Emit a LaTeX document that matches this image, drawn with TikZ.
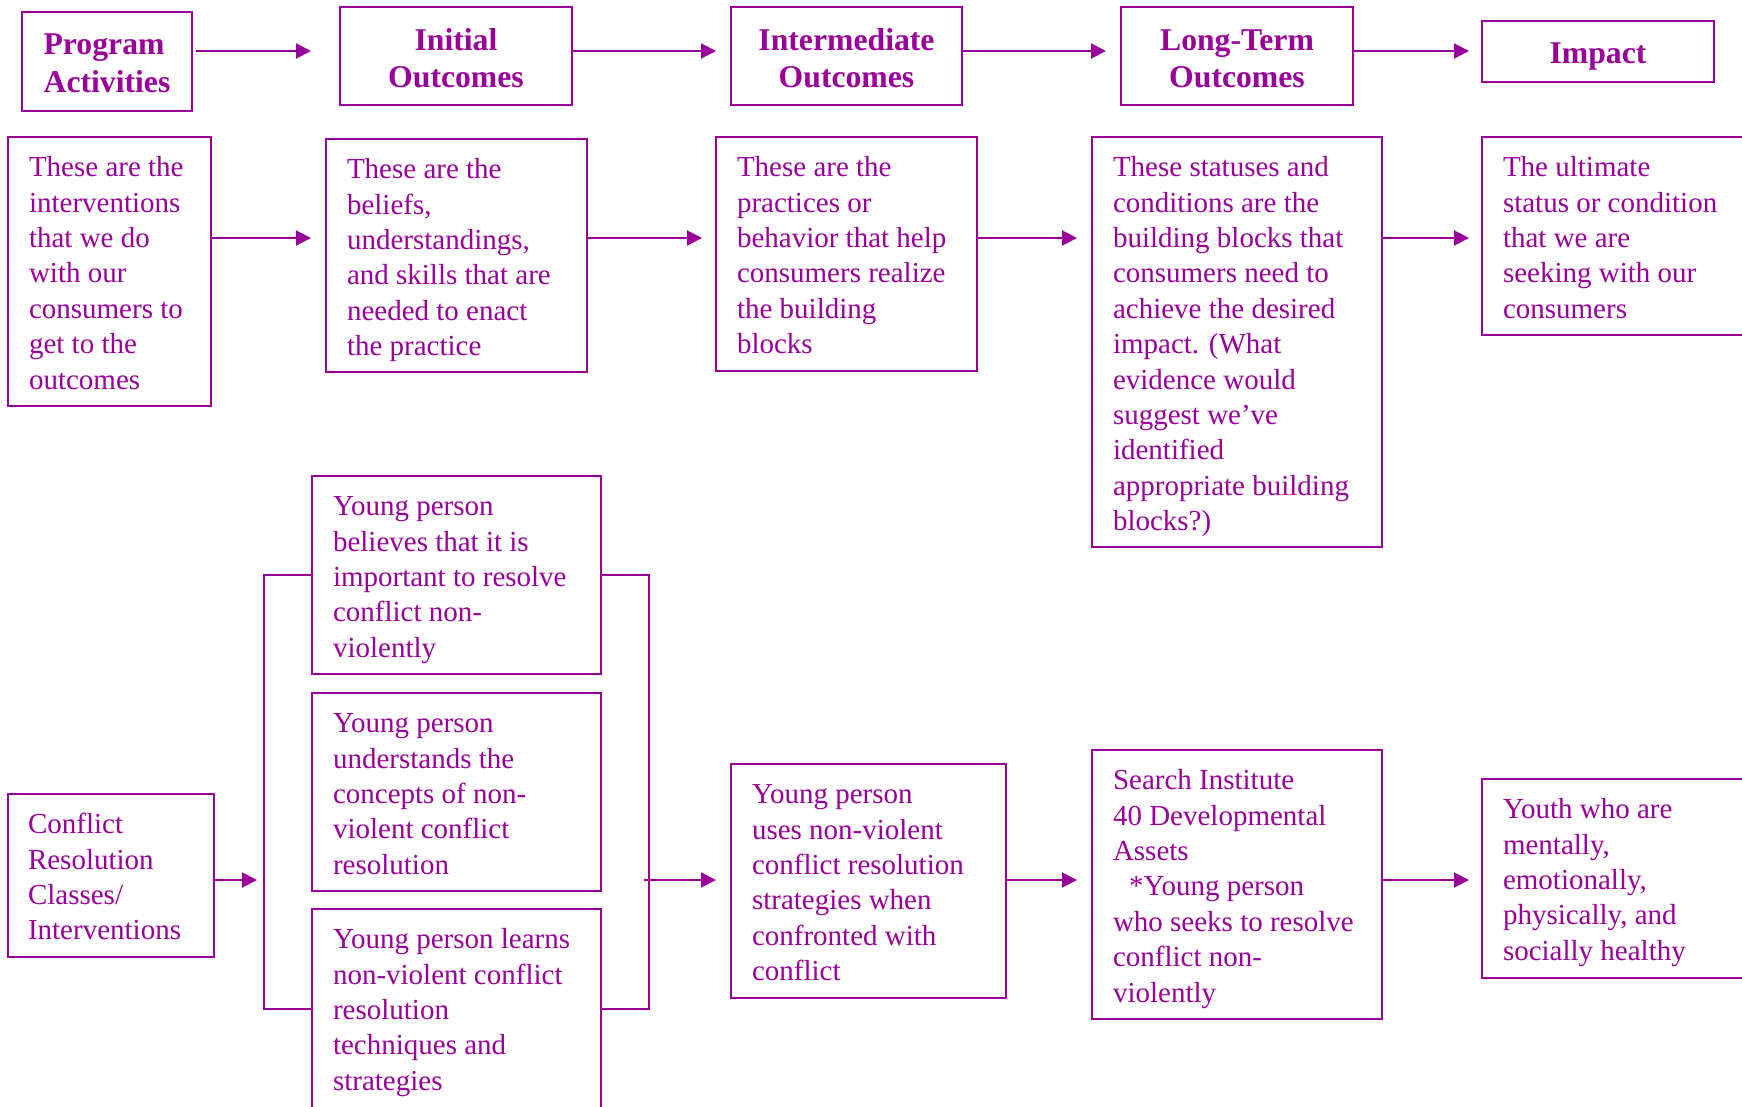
\documentclass[tikz,border=0pt]{standalone}
\usepackage{fontspec}
\setmainfont{Liberation Serif}
\usetikzlibrary{arrows.meta}
\definecolor{pur}{HTML}{990099}
\newcommand{\bodyfont}{\fontsize{29}{35.4}\selectfont}
\newcommand{\headfont}{\bfseries\fontsize{31.7}{37.8}\selectfont}
\begin{document}
\begin{tikzpicture}[x=1pt,y=-1pt,
  box/.style={draw=pur, line width=2pt, inner sep=0pt, outer sep=0pt, anchor=north west},
  txt/.style={text=pur, inner sep=0pt, outer sep=0pt, align=left, font=\bodyfont, anchor=north west},
  hd/.style={text=pur, inner sep=0pt, outer sep=0pt, font=\headfont, anchor=north},
  arr/.style={draw=pur, line width=2pt, -{Triangle[length=15pt,width=15pt]}},
  ln/.style={draw=pur, line width=2pt}]
\useasboundingbox (0,0) rectangle (1742,1106);
\fill[white] (0,0) rectangle (1742,1106);
\clip (0,0) rectangle (1742,1106);

% header boxes
\node[box, minimum width=170pt, minimum height=99pt] (pa) at (22,12) {};
\node[box, minimum width=232pt, minimum height=98pt] (io) at (340,7) {};
\node[box, minimum width=231pt, minimum height=98pt] (imo) at (731,7) {};
\node[box, minimum width=232pt, minimum height=98pt] (lto) at (1121,7) {};
\node[box, minimum width=232pt, minimum height=61pt] (imp) at (1482,21) {};

\node[hd, align=left] (pat) at ([shift={(0,15.8)}]pa.north) {\strut Program\\Activities};
\node[hd, align=center] (iot) at ([shift={(0,16.6)}]io.north) {\strut Initial\\Outcomes};
\node[hd, align=center] (imot) at ([shift={(0,16.6)}]imo.north) {\strut Intermediate\\Outcomes};
\node[hd, align=center] (ltot) at ([shift={(0,16.6)}]lto.north) {\strut Long-Term\\Outcomes};
\node[hd] (impt) at ([shift={(0,16.4)}]imp.north) {\strut Impact};

% description boxes
\node[box, minimum width=203pt, minimum height=269pt] (t1) at (8,137) {};
\node[box, minimum width=261pt, minimum height=233pt] (t2) at (326,139) {};
\node[box, minimum width=261pt, minimum height=234pt] (t3) at (716,137) {};
\node[box, minimum width=290pt, minimum height=410pt] (t4) at (1092,137) {};
\node[box, minimum width=318pt, minimum height=198pt] (t5) at (1482,137) {};

\node[txt] (t1t) at ([shift={(21,15)}]t1.north west) {\strut These are the\\interventions\\that we do\\with our\\consumers to\\get to the\\outcomes};
\node[txt] (t2t) at ([shift={(21,15)}]t2.north west) {\strut These are the\\beliefs,\\understandings,\\and skills that are\\needed to enact\\the practice};
\node[txt] (t3t) at ([shift={(21,15)}]t3.north west) {\strut These are the\\practices or\\behavior that help\\consumers realize\\the building\\blocks};
\node[txt] (t4t) at ([shift={(21,15)}]t4.north west) {\strut These statuses and\\conditions are the\\building blocks that\\consumers need to\\achieve the desired\\impact. (What\\evidence would\\suggest we’ve\\identified\\appropriate building\\blocks?)};
\node[txt] (t5t) at ([shift={(21,15)}]t5.north west) {\strut The ultimate\\status or condition\\that we are\\seeking with our\\consumers};

% lower section boxes
\node[box, minimum width=206pt, minimum height=163pt] (cr) at (8,794) {};
\node[box, minimum width=289pt, minimum height=198pt] (yp1) at (312,476) {};
\node[box, minimum width=289pt, minimum height=198pt] (yp2) at (312,693) {};
\node[box, minimum width=289pt, minimum height=200pt] (yp3) at (312,909) {};
\node[box, minimum width=275pt, minimum height=234pt] (yp4) at (731,764) {};
\node[box, minimum width=290pt, minimum height=269pt] (si) at (1092,750) {};
\node[box, minimum width=318pt, minimum height=199pt] (yo) at (1482,779) {};

\node[txt] (crt) at ([shift={(20,15)}]cr.north west) {\strut Conflict\\Resolution\\Classes/\\Interventions};
\node[txt] (yp1t) at ([shift={(21,15)}]yp1.north west) {\strut Young person\\believes that it is\\important to resolve\\conflict non-\\violently};
\node[txt] (yp2t) at ([shift={(21,15)}]yp2.north west) {\strut Young person\\understands the\\concepts of non-\\violent conflict\\resolution};
\node[txt] (yp3t) at ([shift={(21,15)}]yp3.north west) {\strut Young person learns\\non-violent conflict\\resolution\\techniques and\\strategies};
\node[txt] (yp4t) at ([shift={(21,15)}]yp4.north west) {\strut Young person\\uses non-violent\\conflict resolution\\strategies when\\confronted with\\conflict};
\node[txt] (sit) at ([shift={(21,15)}]si.north west) {\strut Search Institute\\40 Developmental\\Assets\\\hspace*{16pt}*Young person\\who seeks to resolve\\conflict non-\\violently};
\node[txt] (yot) at ([shift={(21,15)}]yo.north west) {\strut Youth who are\\mentally,\\emotionally,\\physically, and\\socially healthy};

% connectors
\coordinate (h1) at (0,51);
\coordinate (h2) at (0,238);
\coordinate (h3) at (0,880);
\draw[arr, shorten <=4pt, shorten >=29pt] (pa.east |- h1) -- (io.west |- h1);
\draw[arr, shorten >=15pt] (io.east |- h1) -- (imo.west |- h1);
\draw[arr, shorten >=15pt] (imo.east |- h1) -- (lto.west |- h1);
\draw[arr, shorten >=13pt] (lto.east |- h1) -- (imp.west |- h1);

\draw[arr, shorten >=15pt] (t1.east |- h2) -- (t2.west |- h2);
\draw[arr, shorten >=14pt] (t2.east |- h2) -- (t3.west |- h2);
\draw[arr, shorten >=15pt] (t3.east |- h2) -- (t4.west |- h2);
\draw[arr, shorten >=13pt] (t4.east |- h2) -- (t5.west |- h2);

\coordinate (bl) at (264,790);
\coordinate (br) at (649,790);
\draw[ln] (yp1.west) -| (bl) |- (yp3.west);
\draw[ln] (yp1.east) -| (br) |- (yp3.east);
\draw[arr, shorten >=7pt] (cr.east |- h3) -- (bl |- h3);
\draw[arr, shorten <=-5pt, shorten >=15pt] (br |- h3) -- (yp4.west |- h3);
\draw[arr, shorten >=15pt] (yp4.east |- h3) -- (si.west |- h3);
\draw[arr, shorten >=13pt] (si.east |- h3) -- (yo.west |- h3);
\end{tikzpicture}
\end{document}
